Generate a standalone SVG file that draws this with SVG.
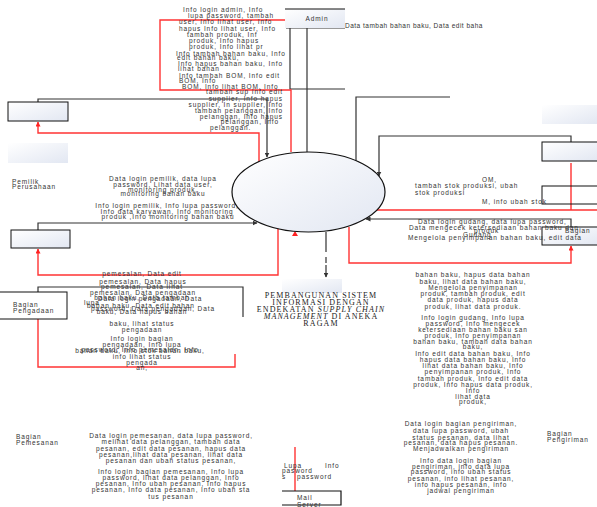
<svg xmlns="http://www.w3.org/2000/svg" width="597" height="507" viewBox="0 0 597 507">
<defs>
<linearGradient id="g" x1="0" y1="0" x2="1" y2="1">
<stop offset="0" stop-color="#ffffff"/>
<stop offset="1" stop-color="#e2e7f2"/>
</linearGradient>
<marker id="ak" viewBox="0 0 10 10" refX="9" refY="5" markerWidth="5" markerHeight="5" orient="auto-start-reverse" markerUnits="userSpaceOnUse">
<path d="M0,0 L10,5 L0,10 z" fill="#333"/>
</marker>
<marker id="ar" viewBox="0 0 10 10" refX="9" refY="5" markerWidth="5" markerHeight="5" orient="auto-start-reverse" markerUnits="userSpaceOnUse">
<path d="M0,0 L10,5 L0,10 z" fill="#f22"/>
</marker>
</defs>
<style>
.t{font-family:"Liberation Sans",Arial,sans-serif;font-size:6.5px;fill:#333;letter-spacing:0.9px}
.m{text-anchor:middle}
.e{text-anchor:end}
.ttl{font-family:"Liberation Serif","Times New Roman",serif;font-size:8px;fill:#222;letter-spacing:1.1px;text-anchor:middle}
.it{font-style:italic}
.k{stroke:#333;fill:none;stroke-width:1.2}
.r{stroke:#f33;fill:none;stroke-width:1.4}
.box{fill:url(#g);stroke:#111;stroke-width:1}
.boxn{fill:url(#g);stroke:none}
</style>
<rect width="597" height="507" fill="#fff"/>

<g id="connectors">
<path class="k" d="M286,28 H345 M290,28 V89 H345"/>
<path class="k" d="M307,28 V152" stroke-width="2.2"/>
<path class="k" d="M450,97 H356 V162"/>
<path class="k" d="M38,102 V99 H267 V157" marker-end="url(#ak)"/>
<path class="k" d="M38,230 V223 H257" marker-end="url(#ak)"/>
<path class="k" d="M571,142 V136 H379 V176" marker-end="url(#ak)"/>
<path class="k" d="M571,227 V219 H366" marker-end="url(#ak)"/>
<path class="k" d="M38,292 V287 H243 V317"/>
<path class="k" d="M326,232 V252 M326,257 V263 M326,265 V277" marker-end="url(#ak)"/>
<path class="r" d="M285,20 H160 V90 H291 V152"/>
<path class="r" d="M259,162 V133 H38 V122" marker-end="url(#ar)"/>
<path class="r" d="M278,228 V275 H38 V249" marker-end="url(#ar)"/>
<path class="r" d="M38,319 V367 H235 V354"/>
<path class="r" d="M571,163 V210 M597,210 H363"/>
<path class="r" d="M349,227 V263 H571 V246" marker-end="url(#ar)"/>
<path class="r" d="M295,447 V491"/>
<path d="M292,236 L295,231 L298,236 z" fill="#f22"/>
</g>

<g id="admin">
<rect class="boxn" x="285" y="9" width="60" height="19"/>
<path d="M285,9 H345" stroke="#111" stroke-width="1"/>
<text class="t m" x="317" y="21">Admin</text>
<text class="t" x="345" y="28" style="letter-spacing:0.5px">Data tambah bahan baku, Data edit baha</text>
</g>

<g id="proses">
<ellipse cx="308.5" cy="192" rx="76.5" ry="40" fill="url(#g)" stroke="#111" stroke-width="1.2"/>
</g>

<g id="judul">
<rect class="boxn" x="282" y="279" width="60" height="14"/>
<text class="ttl" x="321" y="298">PEMBANGUNAN SISTEM</text>
<text class="ttl" x="321" y="305">INFORMASI DENGAN</text>
<text class="ttl" x="321" y="312">ENDEKATAN <tspan class="it">SUPPLY CHAIN</tspan></text>
<text class="ttl" x="321" y="319"><tspan class="it">MANAGEMENT</tspan> DI ANEKA</text>
<text class="ttl" x="321" y="326">RAGAM</text>
</g>

<g id="entitas-kiri-atas">
<rect class="box" x="8" y="102" width="60" height="19"/>
</g>
<g id="pemilik">
<rect class="boxn" x="8" y="143" width="60" height="20"/>
<text class="t" x="12" y="184">Pemilik</text>
<text class="t" x="12" y="189">Perusahaan</text>
</g>
<g id="entitas-kiri-tengah">
<rect class="box" x="11" y="230" width="59" height="18"/>
</g>
<g id="pengadaan">
<rect x="-1" y="292" width="68" height="27" fill="#fff" stroke="#111" stroke-width="1"/>
<text class="t" x="13" y="307">Bagian</text>
<text class="t" x="13" y="313">Pengadaan</text>
</g>
<g id="pemesanan">
<text class="t" x="16" y="439">Bagian</text>
<text class="t" x="16" y="445">Pemesanan</text>
</g>
<g id="mailserver">
<path d="M282,491 H341 V505 H282" stroke="#111" stroke-width="1.2" fill="none"/>
<text class="t" x="297" y="500">Mail</text>
<text class="t" x="297" y="507">Server</text>
</g>
<g id="pengiriman">
<text class="t" x="547" y="436">Bagian</text>
<text class="t" x="547" y="442">Pengiriman</text>
</g>
<g id="entitas-kanan-1">
<rect class="boxn" x="542" y="105" width="55" height="19"/>
</g>
<g id="entitas-kanan-2">
<rect class="box" x="542" y="142" width="56" height="19"/>
</g>
<g id="entitas-kanan-3">
<rect x="542" y="186" width="56" height="18" fill="none" stroke="#111" stroke-width="1"/>
</g>
<g id="gudang">
<rect class="box" x="542" y="227" width="56" height="18"/>
<text class="t" x="565" y="233">Bagian</text>
</g>

<g id="label-admin">
<text class="t" x="183" y="12">Info login admin, Info</text>
<text class="t" x="188" y="18">lupa password, tambah</text>
<text class="t" x="179" y="24">user, Info lihat user, Info</text>
<text class="t" x="179" y="31">hapus Info lihat user, Info</text>
<text class="t" x="187" y="37">tambah produk, Inf</text>
<text class="t" x="189" y="43">produk, Info hapus</text>
<text class="t" x="189" y="49">produk, Info lihat pr</text>
<text class="t" x="176" y="56">Info tambah bahan baku, Info</text>
<text class="t" x="177" y="60">edit bahan baku,</text>
<text class="t" x="178" y="66">Info hapus bahan baku, Info</text>
<text class="t" x="178" y="71">lihat bahan</text>
<text class="t" x="179" y="78">Info tambah BOM, Info edit</text>
<text class="t" x="179" y="83">BOM, Info</text>
<text class="t" x="182" y="89">BOM, Info lihat BOM, Info</text>
<text class="t e" x="283" y="94">tambah sup Info edit</text>
<text class="t e" x="283" y="101">supplier, Info hapus</text>
<text class="t e" x="283" y="107">supplier, In supplier, Info</text>
<text class="t e" x="283" y="113">tambah pelanggan, Info</text>
<text class="t e" x="283" y="119">pelanggan, Info hapus</text>
<text class="t e" x="279" y="124">pelanggan, Info</text>
<text class="t" x="210" y="130">pelanggan.</text>
</g>

<g id="label-pemilik">
<text class="t m" x="163" y="181">Data login pemilik, data lupa</text>
<text class="t m" x="163" y="187">password, Lihat data user,</text>
<text class="t m" x="163" y="192">monitoring produk,</text>
<text class="t m" x="163" y="196">monitoring bahan baku</text>
<text class="t m" x="167" y="208">Info login pemilik, Info lupa password,</text>
<text class="t m" x="167" y="214">Info data karyawan, Info monitoring</text>
<text class="t m" x="168" y="219">produk ,Info monitoring bahan baku</text>
</g>

<g id="label-pengadaan">
<text class="t m" x="142" y="276">pemesalan, Data edit</text>
<text class="t m" x="143" y="284">pemesalan, Data hapus</text>
<text class="t m" x="142" y="289">pemesalan, Data lihat</text>
<text class="t m" x="143" y="295">pemesalan, Data pengadaan</text>
<text class="t m" x="142" y="300">bahan baku, Data tambah</text>
<text class="t m" x="150" y="301">Data login pengadaan, Data</text>
<text class="t" x="84" y="305">lupa</text>
<text class="t m" x="141" y="308">bahan baku, Data edit bahan</text>
<text class="t m" x="153" y="311">password, Data pengadaan, Data</text>
<text class="t m" x="142" y="314">baku, Data hapus bahan</text>
<text class="t m" x="142" y="326">baku, lihat status</text>
<text class="t m" x="142" y="332">pengadaan</text>
<text class="t m" x="142" y="341">Info login bagian</text>
<text class="t m" x="142" y="347">pengadaan, Info lupa</text>
<text class="t m" x="140" y="352">password, Info pemesalan, Info</text>
<text class="t m" x="140" y="353">bahan baku, Info stok bahan baku,</text>
<text class="t m" x="142" y="359">info lihat status</text>
<text class="t m" x="142" y="365">pengada</text>
<text class="t m" x="142" y="370">an,</text>
</g>

<g id="label-gudang">
<text class="t" x="482" y="182">OM,</text>
<text class="t" x="415" y="188">tambah stok produksi, ubah</text>
<text class="t" x="415" y="195">stok produksi</text>
<text class="t" x="482" y="204">M, info ubah stok</text>
<text class="t" x="418" y="224">Data login gudang, data lupa password,</text>
<text class="t" x="409" y="230">Data mengecek ketersediaan bahan baku dan</text>
<text class="t" x="474" y="233">produk</text>
<text class="t" x="463" y="237">Gudang</text>
<text class="t" x="408" y="240">Mengelola penyimpanan bahan baku, edit data</text>
<text class="t m" x="473" y="277">bahan baku, hapus data bahan</text>
<text class="t m" x="473" y="284">baku, lihat data bahan baku,</text>
<text class="t m" x="473" y="290">Mengelola penyimpanan</text>
<text class="t m" x="473" y="296">produk, tambah produk, edit</text>
<text class="t m" x="473" y="302">data produk, hapus data</text>
<text class="t m" x="473" y="309">produk, lihat data produk.</text>
<text class="t m" x="473" y="320">Info login gudang, Info lupa</text>
<text class="t m" x="473" y="326">password, Info mengecek</text>
<text class="t m" x="473" y="332">ketersediaan bahan baku san</text>
<text class="t m" x="473" y="338">produk, Info penyimpanan</text>
<text class="t m" x="473" y="344">bahan baku, tambah data bahan</text>
<text class="t m" x="473" y="349">baku,</text>
<text class="t m" x="473" y="356">Info edit data bahan baku, Info</text>
<text class="t m" x="473" y="362">hapus data bahan baku, Info</text>
<text class="t m" x="473" y="368">lihat data bahan baku, Info</text>
<text class="t m" x="473" y="374">penyimpanan produk, Info</text>
<text class="t m" x="473" y="381">tambah produk, Info edit data</text>
<text class="t m" x="473" y="387">produk, Info hapus data produk,</text>
<text class="t m" x="473" y="393">Info</text>
<text class="t m" x="473" y="399">lihat data</text>
<text class="t m" x="473" y="404">produk,</text>
</g>

<g id="label-pemesanan">
<text class="t m" x="171" y="438">Data login pemesanan, data lupa password,</text>
<text class="t m" x="171" y="444">melihat data pelanggan, tambah data</text>
<text class="t m" x="171" y="451">pesanan, edit data pesanan, hapus data</text>
<text class="t m" x="171" y="457">pesanan,lihat data pesanan, lihat data</text>
<text class="t m" x="171" y="463">pesanan dan ubah status pesanan,</text>
<text class="t m" x="171" y="474">Info login bagian pemesanan, Info lupa</text>
<text class="t m" x="171" y="480">password, lihat data pelanggan, Info</text>
<text class="t m" x="171" y="486">pesanan, Info ubah pesanan, Info hapus</text>
<text class="t m" x="171" y="492">pesanan, Info data pesanan, Info ubah sta</text>
<text class="t m" x="171" y="499">tus pesanan</text>
</g>

<g id="label-mail">
<text class="t" x="284" y="468">Lupa</text>
<text class="t" x="325" y="468">Info</text>
<text class="t" x="282" y="473">pasword</text>
<text class="t" x="282" y="479">s</text>
<text class="t" x="297" y="479">password</text>
</g>

<g id="label-pengiriman">
<text class="t m" x="461" y="426">Data login bagian pengiriman,</text>
<text class="t m" x="461" y="433">data lupa password, ubah</text>
<text class="t m" x="461" y="440">status pesanan, data lihat</text>
<text class="t m" x="461" y="445">pesanan, data hapus pesanan.</text>
<text class="t m" x="461" y="451">Menjadwalkan pengiriman</text>
<text class="t m" x="461" y="463">Info data login bagian</text>
<text class="t m" x="461" y="469">pengiriman, info data lupa</text>
<text class="t m" x="461" y="474">password, info ubah status</text>
<text class="t m" x="461" y="481">pesanan, info lihat pesanan,</text>
<text class="t m" x="461" y="487">info hapus pesanan, info</text>
<text class="t m" x="461" y="493">jadwal pengiriman</text>
</g>
</svg>
